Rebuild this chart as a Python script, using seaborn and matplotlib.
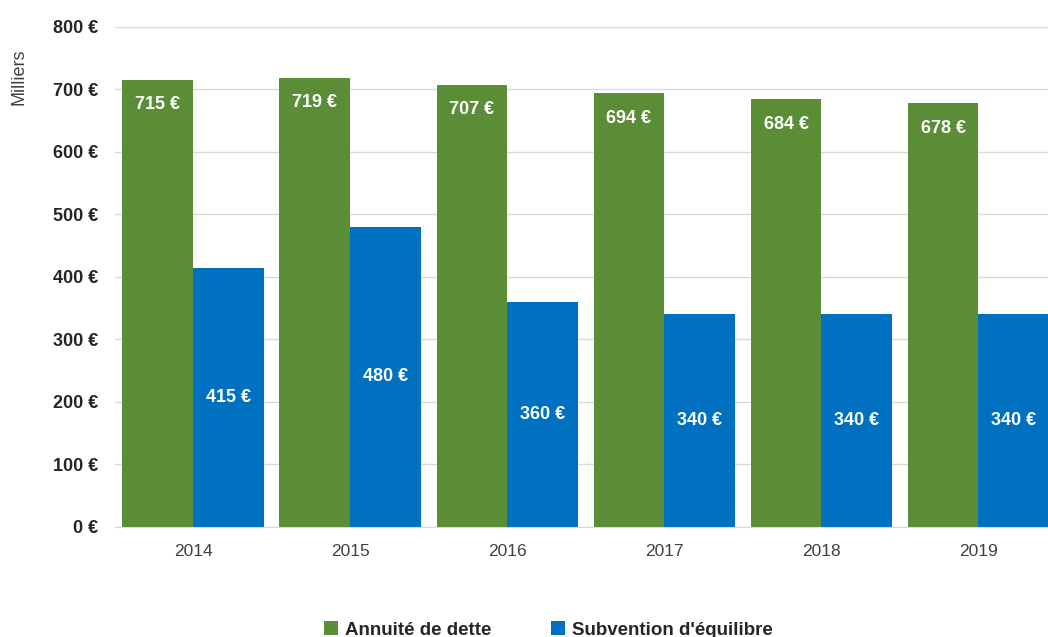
import pandas
import seaborn
import matplotlib.pyplot as plt
from matplotlib.ticker import FuncFormatter

annees = ['2014', '2015', '2016', '2017', '2018', '2019']
annuite = [715, 719, 707, 694, 684, 678]
subvention = [415, 480, 360, 340, 340, 340]
series = ['Annuité de dette', "Subvention d'équilibre"]

data = pandas.DataFrame({
    'annee': annees * 2,
    'valeur': annuite + subvention,
    'serie': [series[0]] * len(annees) + [series[1]] * len(annees),
})

seaborn.set_style('white')
plt.rcParams['font.family'] = ['Liberation Sans', 'DejaVu Sans']

fig = plt.figure(figsize=(10.48, 6.37), dpi=100)
ax = fig.add_axes([0.1093, 0.1727, 0.8993, 0.785])

seaborn.barplot(x='annee', y='valeur', hue='serie', data=data, ax=ax,
                palette=['#5B8C36', '#0070C0'], saturation=1, width=0.9,
                linewidth=0, legend=True)

ax.set_ylim(0, 800)
ax.set_xlim(-0.5, 5.5)
ax.set_yticks(range(0, 801, 100))
ax.yaxis.set_major_formatter(FuncFormatter(lambda v, p: '%d €' % v))
ax.grid(axis='y', color='#d9d9d9', linewidth=1)
ax.set_axisbelow(True)
for s in ['top', 'right', 'left']:
    ax.spines[s].set_visible(False)
ax.spines['bottom'].set_color('#d9d9d9')
ax.tick_params(axis='y', length=0, pad=12, labelsize=13)
ax.tick_params(axis='x', length=0, pad=12, labelsize=12.5, labelcolor='#404040')
for t in ax.get_yticklabels():
    t.set_fontweight('bold')
ax.set_xlabel('')
ax.set_ylabel('Milliers', fontsize=13, color='#404040')
ax.yaxis.set_label_coords(-0.092, 0.9)

# etiquettes
ax.bar_label(ax.containers[0], labels=['%d €' % v for v in annuite],
             label_type='edge', padding=-24, color='white', fontweight='bold',
             fontsize=13)
ax.bar_label(ax.containers[1], labels=['%d €' % v for v in subvention],
             label_type='center', color='white', fontweight='bold', fontsize=13)

ax.legend(loc='upper center', bbox_to_anchor=(0.46, -0.155), ncol=2, frameon=False,
          fontsize=13.5, handlelength=0.75, handleheight=0.75, handletextpad=0.35,
          columnspacing=3.2)
for t in ax.get_legend().get_texts():
    t.set_fontweight('bold')

fig.savefig('out.png', dpi=100)
